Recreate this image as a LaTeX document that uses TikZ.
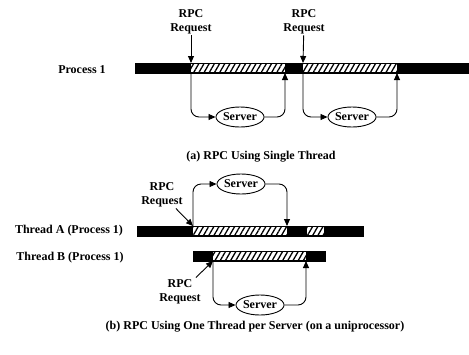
\documentclass[tikz,border=0pt]{standalone}
\usepackage{fontspec}
\setmainfont{Liberation Serif}
\usetikzlibrary{arrows.meta, shapes.geometric, patterns.meta}
\tikzset{
 lbl/.style = {font = \bfseries\fontsize{12}{14}\selectfont, align = center, inner sep = 1pt},
 srv/.style = {lbl, draw, ellipse, line width = .9pt, minimum width = 46pt, minimum height = 20pt, inner sep = 0pt},
 conn/.style = {line width = .9pt, rounded corners = 8pt, -{Triangle[length = 7pt, width = 6pt]}},
 busy/.style = {fill = white, pattern = {Lines[angle = 60, distance = 4.5pt, line width = 1.3pt]}},
}

\begin{document}
\begin{tikzpicture}[x = 1pt, y = -1pt]
 \useasboundingbox (0, 0) rectangle (469, 354);
 \filldraw (135, 63) rectangle (469, 73);
 \fill[white] (191, 64) rectangle (285, 72);
 \fill[busy] (191, 64) rectangle (285, 72);
 \fill[white] (303, 64) rectangle (397, 72);
 \fill[busy] (303, 64) rectangle (397, 72);
 \coordinate (a1) at (191, 63);
 \coordinate (a1b) at (191, 73);
 \coordinate (a2) at (285, 73);
 \coordinate (b1) at (303, 63);
 \coordinate (b1b) at (303, 73);
 \coordinate (b2) at (397, 73);
 \node[lbl] (p1) at (82, 70) {Process 1};
 \node[lbl] (reqa) at (191, 22) {RPC\\Request};
 \node[lbl] (reqb) at (304, 22) {RPC\\Request};
 \node[srv] (sa) at (240, 117) {Server};
 \node[srv] (sb) at (352, 117) {Server};
 \draw[conn, rounded corners = 0pt] (reqa) -- (a1);
 \draw[conn, rounded corners = 0pt] (reqb) -- (b1);
 \draw[conn] (a1b) |- (sa);
 \draw[conn] (sa) -| (a2);
 \draw[conn] (b1b) |- (sb);
 \draw[conn] (sb) -| (b2);
 \node[lbl] (capa) at (261, 157) {(a) RPC Using Single Thread};

 \filldraw (137, 226) rectangle (363, 236);
 \fill[white] (193, 227) rectangle (287, 235);
 \fill[busy] (193, 227) rectangle (287, 235);
 \fill[white] (307, 227) rectangle (324, 235);
 \fill[busy] (307, 227) rectangle (324, 235);
 \filldraw (193, 251) rectangle (325, 261);
 \fill[white] (213, 252) rectangle (306, 260);
 \fill[busy] (213, 252) rectangle (306, 260);
 \coordinate (c1) at (193, 226);
 \coordinate (c2) at (287, 226);
 \coordinate (d1) at (213, 261);
 \coordinate (d2) at (306, 261);
 \node[lbl] (ta) at (69, 231) {Thread A (Process 1)};
 \node[lbl] (tb) at (70, 258) {Thread B (Process 1)};
 \node[lbl] (reqc) at (162, 195) {RPC\\Request};
 \node[lbl] (reqd) at (180, 292) {RPC\\Request};
 \node[srv] (sc) at (241, 184) {Server};
 \node[srv] (sd) at (260, 305) {Server};
 \draw[conn, rounded corners = 0pt] (reqc.south east) ++(-8, 0) -- (c1);
 \draw[conn, rounded corners = 0pt] (reqd.north east) ++(-6, -1) -- (d1);
 \draw[conn] (c1) |- (sc);
 \draw[conn] (sc) -| (c2);
 \draw[conn] (d1) |- (sd);
 \draw[conn] (sd) -| (d2);
 \node[lbl] (capb) at (255, 327) {(b) RPC Using One Thread per Server (on a uniprocessor)};
\end{tikzpicture}
\end{document}
